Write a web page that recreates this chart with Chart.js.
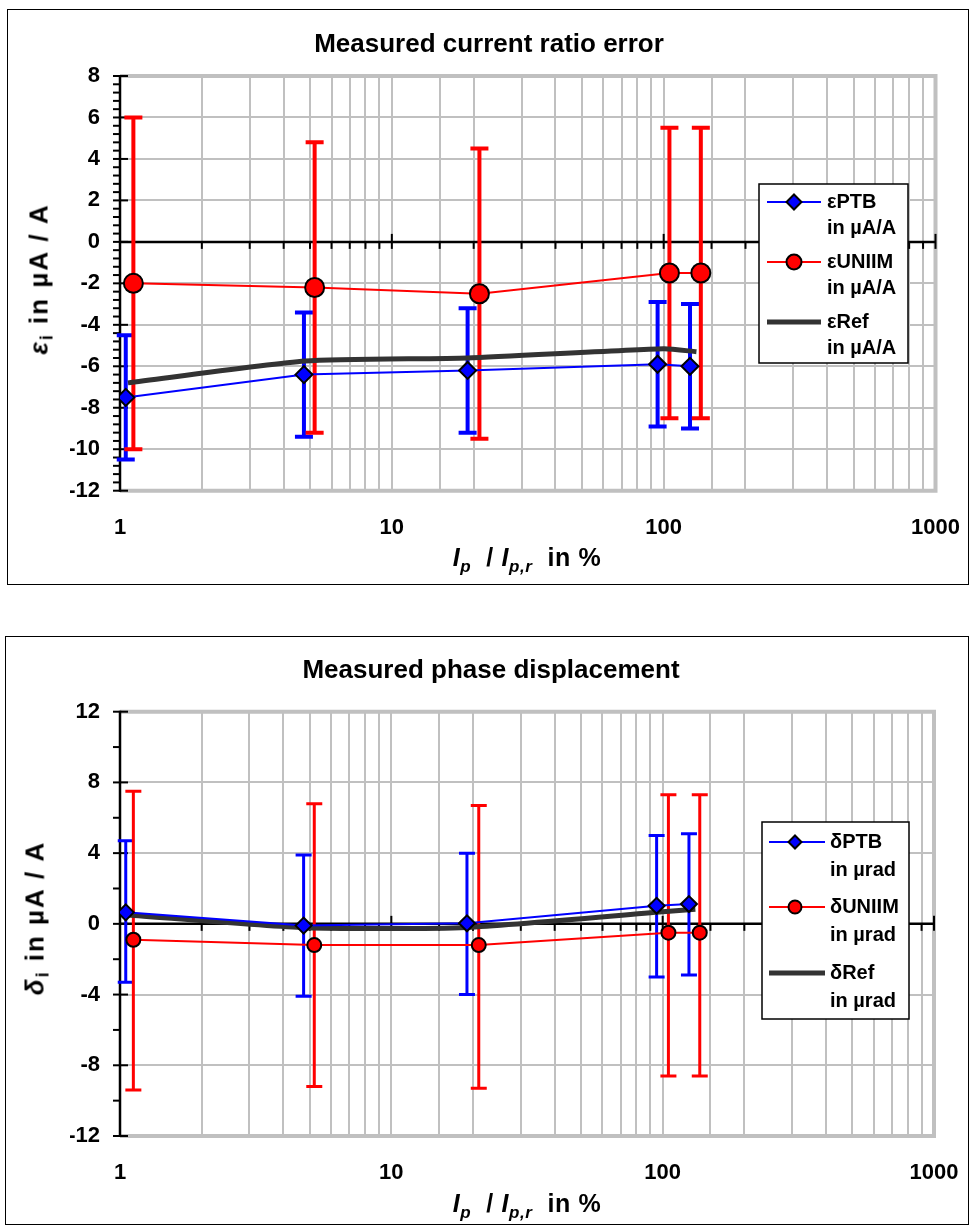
<!DOCTYPE html>
<html>
<head>
<meta charset="utf-8">
<script src="https://cdn.jsdelivr.net/npm/chart.js@4.4.1/dist/chart.umd.min.js"></script>
<style>
body{margin:0;background:#fff;font-family:"Liberation Sans",Arial,sans-serif;}
.box{position:absolute;border:1px solid #000;box-sizing:border-box;background:#fff;}
.box canvas{position:absolute;left:0;top:0;}
.ttl{position:absolute;font-weight:bold;white-space:nowrap;color:#000;font-size:25px;line-height:1;transform:translate(-50%,-50%);}
.ytl{transform:translate(-50%,-50%) rotate(-90deg);font-size:26px;letter-spacing:2px;}
.xtl{letter-spacing:0.6px;}
.main{font-size:26px;}
.ttl sub{font-size:68%;vertical-align:-0.3em;}
</style>
</head>
<body>
<div class="box" style="left:7px;top:9px;width:962px;height:576px;">
  <canvas id="c1" width="960" height="574"></canvas>
</div>
<div class="box" style="left:5px;top:636px;width:964px;height:589px;">
  <canvas id="c2" width="962" height="587"></canvas>
</div>

<div class="ttl main" style="left:489px;top:43px;">Measured current ratio error</div>
<div class="ttl ytl" style="left:41px;top:279px;"><i>ε</i><sub>i</sub> in µA / A</div>
<div class="ttl xtl" style="left:527px;top:560px;"><i>I</i><sub><i>p</i></sub>&nbsp; / <i>I</i><sub><i>p,r</i></sub>&nbsp; in %</div>

<div class="ttl main" style="left:491px;top:669px;">Measured phase displacement</div>
<div class="ttl ytl" style="left:37px;top:918px;"><i>δ</i><sub>i</sub> in µA / A</div>
<div class="ttl xtl" style="left:527px;top:1206px;"><i>I</i><sub><i>p</i></sub>&nbsp; / <i>I</i><sub><i>p,r</i></sub>&nbsp; in %</div>

<script>
// current levels in % (points are shifted a little so the bars don't overlap)
const xPTB = [1.05, 4.75, 19, 95, 125];
const xUNIIM = [1.12, 5.2, 21, 105, 137];
const xRef = [1.07, 4.8, 19, 100, 132];
const xTickLabels = [1, 10, 100, 1000];

// ratio error, µA/A
const epsPTB = [-7.5, -6.4, -6.2, -5.9, -6.0];
const epsPTBLow = [-10.5, -9.4, -9.2, -8.9, -9.0];
const epsPTBHigh = [-4.5, -3.4, -3.2, -2.9, -3.0];
const epsUNIIM = [-2.0, -2.2, -2.5, -1.5, -1.5];
const epsUNIIMLow = [-10.0, -9.2, -9.5, -8.5, -8.5];
const epsUNIIMHigh = [6.0, 4.8, 4.5, 5.5, 5.5];
const epsRef = [-6.8, -5.75, -5.6, -5.15, -5.3];
const epsTickLabels = [-12, -10, -8, -6, -4, -2, 0, 2, 4, 6, 8];

// phase displacement, µrad
const deltaPTB = [0.65, -0.1, 0.03, 1.02, 1.12];
const deltaPTBLow = [-3.3, -4.1, -4.0, -3.0, -2.9];
const deltaPTBHigh = [4.7, 3.9, 4.0, 5.0, 5.1];
const deltaUNIIM = [-0.9, -1.2, -1.2, -0.5, -0.5];
const deltaUNIIMLow = [-9.4, -9.2, -9.3, -8.6, -8.6];
const deltaUNIIMHigh = [7.5, 6.8, 6.7, 7.3, 7.3];
const deltaRef = [0.5, -0.22, -0.2, 0.68, 0.82];
const deltaTickLabels = [-12, -8, -4, 0, 4, 8, 12];

const legendEps = [['εPTB', 'in µA/A'], ['εUNIIM', 'in µA/A'], ['εRef', 'in µA/A']];
const legendDelta = [['δPTB', 'in µrad'], ['δUNIIM', 'in µrad'], ['δRef', 'in µrad']];

const FONT = '"Liberation Sans", Arial, sans-serif';
const GRID = '#c0c0c0';
Chart.defaults.font.family = FONT;
Chart.defaults.color = '#000';

function pts(xs, ys) {
  return xs.map((x, i) => ({x: x, y: ys[i]}));
}

function makeChart(id, s) {
  const decoPlugin = {
    id: 'deco',
    beforeDatasetsDraw(chart) {
      const ctx = chart.ctx, a = chart.chartArea;
      const xs = chart.scales.x, ys = chart.scales.y;
      ctx.save();
      // gray plot frame
      ctx.strokeStyle = GRID;
      ctx.lineWidth = 4;
      ctx.beginPath();
      ctx.moveTo(a.left, a.top);
      ctx.lineTo(a.right, a.top);
      ctx.lineTo(a.right, a.bottom);
      ctx.lineTo(a.left, a.bottom);
      ctx.stroke();
      // y axis
      ctx.strokeStyle = '#000';
      ctx.lineWidth = 2.5;
      ctx.beginPath();
      ctx.moveTo(a.left, a.top - 1);
      ctx.lineTo(a.left, a.bottom + 1);
      ctx.stroke();
      ctx.lineWidth = 2;
      ys.ticks.forEach(t => {
        const py = ys.getPixelForValue(t.value);
        const major = s.yLabels.includes(t.value);
        ctx.beginPath();
        ctx.moveTo(a.left - 7, py);
        ctx.lineTo(major ? a.left + 8 : a.left, py);
        ctx.stroke();
      });
      // x axis crossing at zero
      const zy = ys.getPixelForValue(0);
      ctx.lineWidth = 2.5;
      ctx.beginPath();
      ctx.moveTo(a.left, zy);
      ctx.lineTo(a.right, zy);
      ctx.stroke();
      ctx.lineWidth = 2;
      xs.ticks.forEach(t => {
        const px = xs.getPixelForValue(t.value);
        const major = xTickLabels.includes(t.value);
        if (t.value === 1) return;
        ctx.beginPath();
        ctx.moveTo(px, major ? zy - 8 : zy);
        ctx.lineTo(px, zy + 7);
        ctx.stroke();
      });
      // error bars
      s.errBars.forEach(e => {
        ctx.strokeStyle = e.color;
        ctx.lineWidth = s.barWidth;
        e.x.forEach((xv, i) => {
          const px = xs.getPixelForValue(xv);
          const p1 = ys.getPixelForValue(e.low[i]);
          const p2 = ys.getPixelForValue(e.high[i]);
          ctx.beginPath();
          ctx.moveTo(px, p1);
          ctx.lineTo(px, p2);
          ctx.moveTo(px - s.cap, p1);
          ctx.lineTo(px + s.cap, p1);
          ctx.moveTo(px - s.cap, p2);
          ctx.lineTo(px + s.cap, p2);
          ctx.stroke();
        });
      });
      ctx.restore();
    }
  };

  const legendPlugin = {
    id: 'boxLegend',
    afterDraw(chart) {
      const ctx = chart.ctx, L = s.legend;
      ctx.save();
      ctx.fillStyle = '#fff';
      ctx.fillRect(L.x, L.y, L.w, L.h);
      ctx.strokeStyle = '#000';
      ctx.lineWidth = 1.5;
      ctx.strokeRect(L.x, L.y, L.w, L.h);
      chart.data.datasets.forEach((ds, i) => {
        const cy = L.y + L.rows[i];
        ctx.strokeStyle = ds.borderColor;
        ctx.lineWidth = ds.borderWidth;
        ctx.beginPath();
        ctx.moveTo(L.x + L.line0, cy);
        ctx.lineTo(L.x + L.line1, cy);
        ctx.stroke();
        const mx = L.x + L.mark;
        const r = L.markR[i];
        if (ds.pointRadius > 0) {
          ctx.fillStyle = ds.pointBackgroundColor;
          ctx.strokeStyle = '#000';
          ctx.lineWidth = 2;
          ctx.beginPath();
          if (ds.pointStyle === 'rectRot') {
            ctx.moveTo(mx, cy - r);
            ctx.lineTo(mx + r, cy);
            ctx.lineTo(mx, cy + r);
            ctx.lineTo(mx - r, cy);
            ctx.closePath();
          } else {
            ctx.arc(mx, cy, r, 0, Math.PI * 2);
          }
          ctx.fill();
          ctx.stroke();
        }
        ctx.fillStyle = '#000';
        ctx.font = 'bold ' + L.font + 'px ' + FONT;
        ctx.textBaseline = 'middle';
        ctx.textAlign = 'left';
        s.legendText[i].forEach((txt, k) => {
          ctx.fillText(txt, L.x + L.text, cy + k * L.lineGap);
        });
      });
      ctx.restore();
    }
  };

  return new Chart(document.getElementById(id), {
    type: 'line',
    data: {
      datasets: [
        {
          label: s.legendText[0].join(' '),
          data: pts(xPTB, s.ptb),
          borderColor: '#0000ff',
          borderWidth: 2,
          pointStyle: 'rectRot',
          pointRadius: s.ptbR,
          pointBackgroundColor: '#0000ff',
          pointBorderColor: '#000',
          pointBorderWidth: 2
        },
        {
          label: s.legendText[1].join(' '),
          data: pts(xUNIIM, s.uniim),
          borderColor: '#ff0000',
          borderWidth: 2,
          pointStyle: 'circle',
          pointRadius: s.uniimR,
          pointBackgroundColor: '#ff0000',
          pointBorderColor: '#000',
          pointBorderWidth: 2
        },
        {
          label: s.legendText[2].join(' '),
          data: pts(xRef, s.ref),
          borderColor: '#333333',
          borderWidth: 5,
          pointRadius: 0,
          tension: 0.2
        }
      ]
    },
    options: {
      responsive: false,
      animation: false,
      events: [],
      layout: {padding: s.pad},
      plugins: {
        legend: {display: false},
        tooltip: {enabled: false},
        title: {display: false}
      },
      scales: {
        x: {
          type: 'logarithmic',
          min: 1,
          max: 1000,
          afterFit(scale) {
            scale.height = 50;
            scale.paddingLeft = 0;
            scale.paddingRight = 0;
          },
          border: {display: false},
          grid: {color: GRID, lineWidth: 2, drawTicks: false},
          ticks: {
            autoSkip: false,
            maxRotation: 0,
            padding: 24,
            font: {size: 22, weight: 'bold'},
            callback: v => xTickLabels.includes(v) ? String(v) : ''
          }
        },
        y: {
          min: s.yMin,
          max: s.yMax,
          afterFit(scale) {
            scale.width = 50;
            scale.paddingTop = 0;
            scale.paddingBottom = 0;
          },
          border: {display: false},
          grid: {
            lineWidth: 2,
            drawTicks: false,
            color: c => (c.tick && s.yLabels.includes(c.tick.value)) ? GRID : 'rgba(0,0,0,0)'
          },
          ticks: {
            stepSize: s.yStep,
            autoSkip: false,
            padding: 20,
            font: {size: 22, weight: 'bold'},
            callback: v => s.yLabels.includes(v) ? String(v) : ''
          }
        }
      }
    },
    plugins: [decoPlugin, legendPlugin]
  });
}

makeChart('c1', {
  pad: {left: 62, right: 32.5, top: 66, bottom: 43.3},
  yMin: -12, yMax: 8, yStep: 0.4, yLabels: epsTickLabels,
  ptb: epsPTB, uniim: epsUNIIM, ref: epsRef,
  ptbR: 8.5, uniimR: 9.5,
  barWidth: 4, cap: 9,
  errBars: [
    {x: xPTB, low: epsPTBLow, high: epsPTBHigh, color: '#0000ff'},
    {x: xUNIIM, low: epsUNIIMLow, high: epsUNIIMHigh, color: '#ff0000'}
  ],
  legendText: legendEps,
  legend: {x: 751, y: 174, w: 149, h: 179, line0: 8, line1: 62, mark: 35, text: 68,
           rows: [18, 78, 138], lineGap: 26.6, font: 20, markR: [7.5, 7.5, 0]}
});

makeChart('c2', {
  pad: {left: 64, right: 34, top: 74.7, bottom: 38},
  yMin: -12, yMax: 12, yStep: 2, yLabels: deltaTickLabels,
  ptb: deltaPTB, uniim: deltaUNIIM, ref: deltaRef,
  ptbR: 8, uniimR: 7,
  barWidth: 3, cap: 8,
  errBars: [
    {x: xPTB, low: deltaPTBLow, high: deltaPTBHigh, color: '#0000ff'},
    {x: xUNIIM, low: deltaUNIIMLow, high: deltaUNIIMHigh, color: '#ff0000'}
  ],
  legendText: legendDelta,
  legend: {x: 756, y: 185, w: 147, h: 197, line0: 7, line1: 63, mark: 33, text: 68,
           rows: [20, 85, 151], lineGap: 28.5, font: 20, markR: [6.5, 6.5, 0]}
});
</script>
</body>
</html>
